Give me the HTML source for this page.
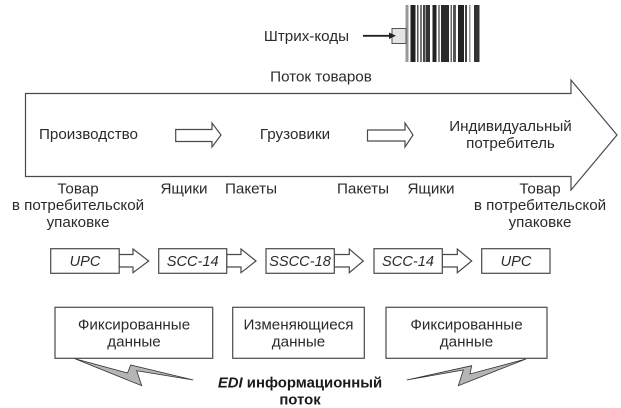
<!DOCTYPE html>
<html><head><meta charset="utf-8"><style>
html,body{margin:0;padding:0;background:#fff}
svg{display:block}
text{font-family:"Liberation Sans",sans-serif;font-size:15.2px;fill:#2b2b2b;text-anchor:middle}
.i{font-style:italic;font-size:14.6px}
.b{font-weight:bold;fill:#1a1a1a;font-size:14.9px}
.b .i{font-size:14.9px}
.s{fill:#fff;stroke:#4a4a4a;stroke-width:1.2}
</style></head><body>
<svg width="621" height="408" viewBox="0 0 621 408" xmlns="http://www.w3.org/2000/svg">
<!-- barcode -->
<g>
<rect x="405.5" y="5" width="3" height="57" fill="#999"/>
<rect x="410.5" y="5" width="5" height="57" fill="#222"/>
<rect x="417" y="5" width="1.5" height="57" fill="#555"/>
<rect x="420" y="5" width="2" height="57" fill="#777"/>
<rect x="423" y="5" width="2" height="57" fill="#444"/>
<rect x="425.5" y="5" width="4.5" height="57" fill="#333"/>
<rect x="432.5" y="5" width="4" height="57" fill="#222"/>
<rect x="438" y="5" width="2" height="57" fill="#888"/>
<rect x="441" y="5" width="8" height="57" fill="#2a2a2a"/>
<rect x="450.5" y="5" width="1.5" height="57" fill="#666"/>
<rect x="453" y="5" width="3" height="57" fill="#555"/>
<rect x="458" y="5" width="6" height="57" fill="#222"/>
<rect x="465" y="5" width="2" height="57" fill="#444"/>
<rect x="469" y="5" width="1.5" height="57" fill="#999"/>
<rect x="474" y="5" width="5.5" height="57" fill="#333"/>
</g>
<rect x="392" y="28.5" width="14" height="15" fill="#e4e4e4" stroke="#555" stroke-width="1"/>
<line x1="363" y1="35.8" x2="390" y2="35.8" stroke="#222" stroke-width="1.8"/>
<polygon points="396,35.8 389,32.5 389,39" fill="#222"/>
<text x="306.5" y="41">Штрих-коды</text>
<text x="321" y="81.5">Поток товаров</text>
<!-- main arrow -->
<polygon class="s" points="25.5,93.5 571,93.5 571,80 617,135 571,190 571,176.5 25.5,176.5"/>
<text x="88.5" y="139">Производство</text>
<text x="295" y="139">Грузовики</text>
<text x="510.5" y="131">Индивидуальный</text>
<text x="510.5" y="148">потребитель</text>
<polygon class="s" points="175.7,129.5 212,129.5 212,123 221,135 212,147 212,141.5 175.7,141.5"/>
<polygon class="s" points="367.5,130 405,130 405,123 413,135 405,147 405,141 367.5,141"/>
<!-- labels -->
<text x="78" y="193.5">Товар</text>
<text x="78" y="210">в потребительской</text>
<text x="78" y="227">упаковке</text>
<text x="184" y="193.5">Ящики</text>
<text x="251" y="193.5">Пакеты</text>
<text x="363" y="193.5">Пакеты</text>
<text x="431" y="193.5">Ящики</text>
<text x="540" y="193.5">Товар</text>
<text x="540" y="210">в потребительской</text>
<text x="540" y="227">упаковке</text>
<!-- code row arrows -->
<polygon class="s" points="119,254.5 133,254.5 133,249 148.7,261 133,272.7 133,267 119,267"/>
<polygon class="s" points="226.7,254.5 241,254.5 241,249 256,261 241,272.7 241,267 226.7,267"/>
<polygon class="s" points="334.3,254.5 349.3,254.5 349.3,249 363.3,261 349.3,272.7 349.3,267 334.3,267"/>
<polygon class="s" points="442.3,254.5 457.3,254.5 457.3,249 471.7,261 457.3,272.7 457.3,267 442.3,267"/>
<rect class="s" x="50.7" y="248.7" width="68.5" height="24.6"/>
<rect class="s" x="158.7" y="248.7" width="68" height="24.6"/>
<rect class="s" x="266" y="248.7" width="68.3" height="24.6"/>
<rect class="s" x="374" y="248.7" width="68.3" height="24.6"/>
<rect class="s" x="481.7" y="248.7" width="68.3" height="24.6"/>
<text class="i" x="85" y="266">UPC</text>
<text class="i" x="192.7" y="266">SCC-14</text>
<text class="i" x="300" y="266">SSCC-18</text>
<text class="i" x="408" y="266">SCC-14</text>
<text class="i" x="516" y="266">UPC</text>
<!-- bottom boxes -->
<rect class="s" x="55" y="307.3" width="157.7" height="51"/>
<rect class="s" x="232.7" y="307.3" width="131.6" height="51"/>
<rect class="s" x="386" y="307.3" width="161" height="51"/>
<text x="134" y="329.5">Фиксированные</text>
<text x="134" y="346.5">данные</text>
<text x="298.5" y="329.5">Изменяющиеся</text>
<text x="298.5" y="346.5">данные</text>
<text x="466.5" y="329.5">Фиксированные</text>
<text x="466.5" y="346.5">данные</text>
<!-- lightning -->
<polygon points="75,358.7 127.5,373 130.7,365 193.3,380 136.7,370.7 141.7,385.7" fill="#b5b5b5" stroke="#333" stroke-width="0.8"/>
<polygon points="526,359 470,374 471.7,365.7 406.7,380 463.3,370 458.3,385.7" fill="#b5b5b5" stroke="#333" stroke-width="0.8"/>
<text class="b" x="300" y="387.5"><tspan class="i">EDI</tspan> информационный</text>
<text class="b" x="300" y="404.5">поток</text>
</svg>
</body></html>
